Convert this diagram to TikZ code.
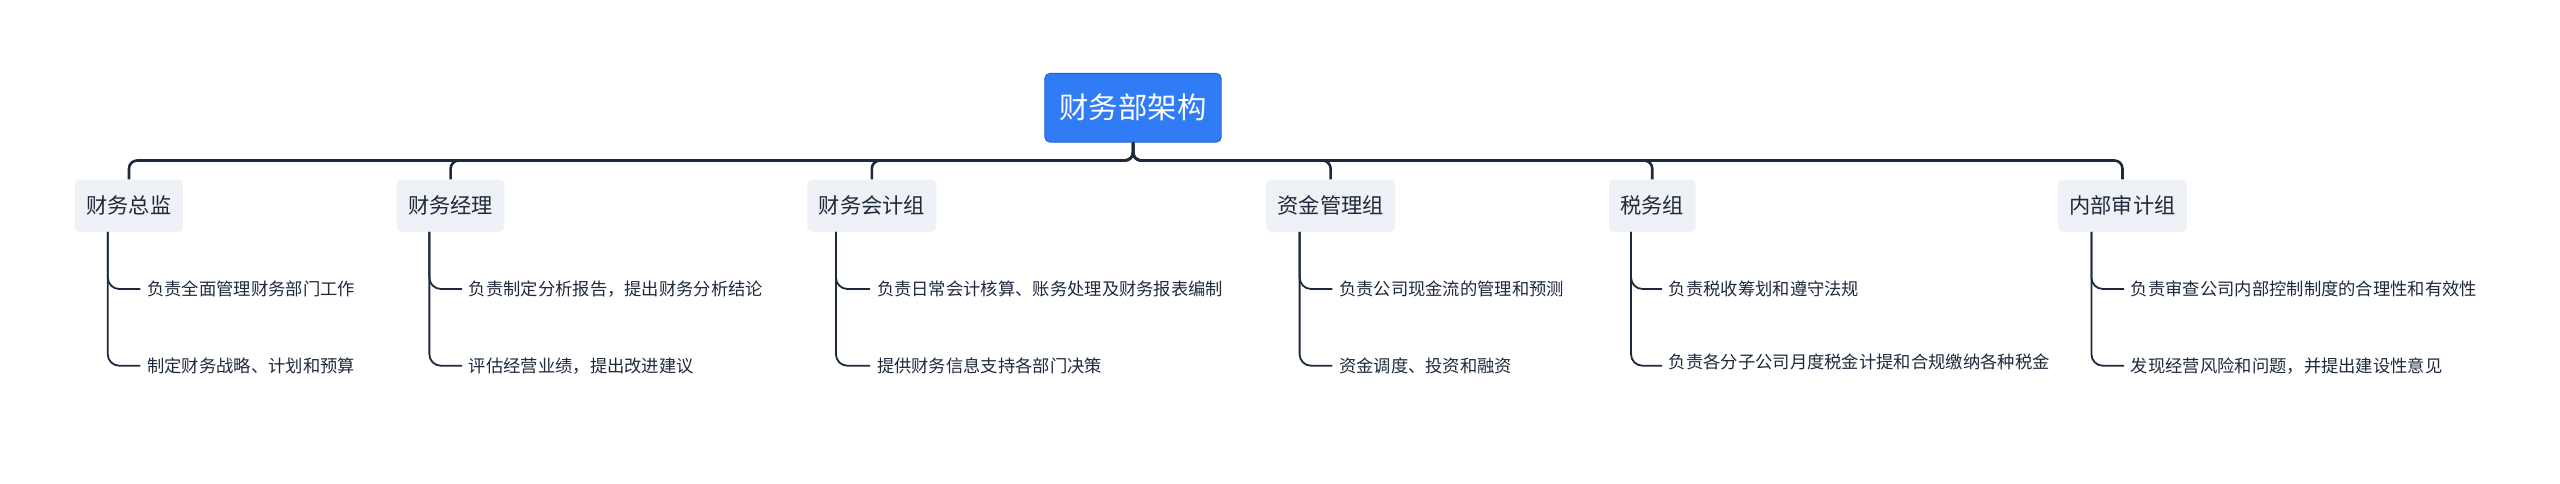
\documentclass[tikz,border=0pt]{standalone}
\usepackage{fontspec}
\setmainfont{Noto Sans CJK SC}
\begin{document}
\begin{tikzpicture}[x=1pt,y=-1pt,
  line/.style={draw=lc,line width=1.6pt,rounded corners=5pt},
  sub/.style={draw=lc,line width=1.1pt,rounded corners=7pt},
  root/.style={fill=rb,draw=rd,line width=0.6pt,rounded corners=3pt,minimum width=108pt,minimum height=42pt,text=white,font=\fontsize{18}{20}\selectfont},
  child/.style={fill=cf,rounded corners=3pt,minimum height=32pt,inner xsep=7pt,text=tc,font=\fontsize{13}{15}\selectfont},
  leaf/.style={anchor=west,inner sep=0pt,text=tc,font=\fontsize{10.6}{15}\selectfont}]
\definecolor{lc}{HTML}{1E2A3B}
\definecolor{rb}{HTML}{2F7CF6}
\definecolor{rd}{HTML}{1F63D0}
\definecolor{cf}{HTML}{EEF1F5}
\definecolor{tc}{HTML}{1E2A3B}
\useasboundingbox (0,0) rectangle (1568,296);
\node[root] (r) at (694,66) {财务部架构};
\node[child] (c1) at (79,126) {财务总监};
\node[child] (c2) at (276,126) {财务经理};
\node[child] (c3) at (534,126) {财务会计组};
\node[child] (c4) at (815,126) {资金管理组};
\node[child] (c5) at (1012,126) {税务组};
\node[child] (c6) at (1300,126) {内部审计组};
\foreach \c in {c1,c2,c3,c4,c5,c6}{\draw[line] (r.south) -- ++(0,11) -| (\c.north);}
% leaves
\node[leaf] (l11) at (90,177) {负责全面管理财务部门工作};
\node[leaf] (l12) at (90,224) {制定财务战略、计划和预算};
\node[leaf] (l21) at (287,177) {负责制定分析报告，提出财务分析结论};
\node[leaf] (l22) at (287,224) {评估经营业绩，提出改进建议};
\node[leaf] (l31) at (537,177) {负责日常会计核算、账务处理及财务报表编制};
\node[leaf] (l32) at (537,224) {提供财务信息支持各部门决策};
\node[leaf] (l41) at (820,177) {负责公司现金流的管理和预测};
\node[leaf] (l42) at (820,224) {资金调度、投资和融资};
\node[leaf] (l51) at (1022,177) {负责税收筹划和遵守法规};
\node[leaf,anchor=north west,text width=218pt,align=left] (l52) at (1022,216.5) {负责各分子公司月度税金计提和合规缴纳各种税金};
\coordinate (l52a) at (1022,224);
\node[leaf] (l61) at (1305,177) {负责审查公司内部控制制度的合理性和有效性};
\node[leaf] (l62) at (1305,224) {发现经营风险和问题，并提出建设性意见};
\foreach \c/\x/\a/\b in {c1/66/l11/l12,c2/263/l21/l22,c3/512/l31/l32,c4/796/l41/l42,c5/999/l51/l52a,c6/1281/l61/l62}{
  \draw[sub] (\x,142) |- ([xshift=-4pt]\a.west);
  \draw[sub] (\x,142) |- ([xshift=-4pt]\b.west);
}
\end{tikzpicture}
\end{document}
